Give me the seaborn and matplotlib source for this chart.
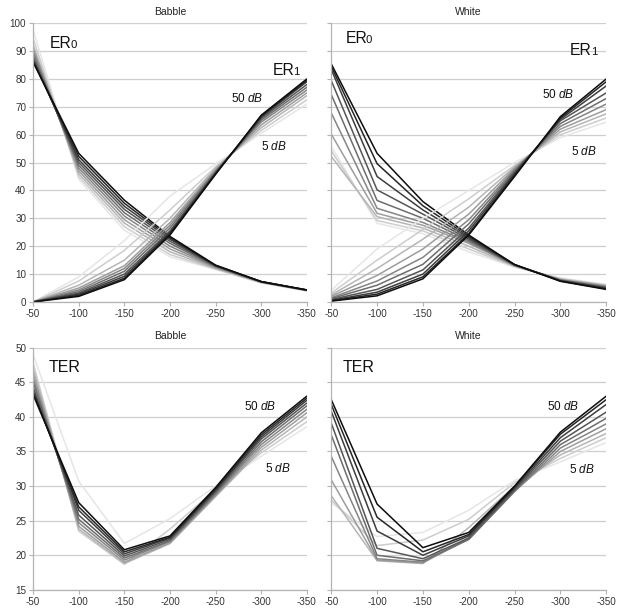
import numpy as np
import pandas as pd
import seaborn as sns
import matplotlib.pyplot as plt

# thresholds on the x axis and SNR levels of the curves
thresholds = [-50, -100, -150, -200, -250, -300, -350]
snr_levels = [5, 10, 15, 20, 25, 30, 35, 40, 45, 50]

# one row per SNR level (5 dB ... 50 dB)
babble_er0 = [
    [97.5, 44.0, 25.7, 16.2, 11.6, 6.8, 4.0],
    [94.5, 45.0, 27.0, 17.0, 11.8, 6.9, 4.0],
    [92.2, 46.0, 28.3, 18.0, 12.0, 7.0, 4.1],
    [91.0, 47.0, 29.5, 19.0, 12.3, 7.1, 4.1],
    [89.8, 48.0, 30.8, 20.0, 12.5, 7.1, 4.2],
    [88.6, 49.0, 32.0, 21.0, 12.7, 7.2, 4.2],
    [87.5, 50.0, 33.2, 21.8, 12.9, 7.2, 4.2],
    [86.8, 51.0, 34.3, 22.5, 13.0, 7.3, 4.3],
    [86.3, 52.2, 35.4, 23.0, 13.1, 7.3, 4.3],
    [86.0, 53.3, 36.5, 23.5, 13.2, 7.3, 4.3],
]
babble_er1 = [
    [0.0, 9.0, 22.0, 38.0, 49.5, 60.5, 71.0],
    [0.0, 7.5, 18.5, 33.0, 48.5, 61.5, 72.5],
    [0.0, 6.0, 15.0, 30.0, 48.0, 62.5, 74.0],
    [0.0, 5.0, 13.0, 28.5, 47.5, 63.5, 75.0],
    [0.0, 4.3, 12.0, 27.5, 47.0, 64.5, 76.0],
    [0.0, 3.7, 11.0, 26.5, 46.7, 65.2, 77.0],
    [0.0, 3.2, 10.0, 25.5, 46.4, 65.8, 78.0],
    [0.0, 2.8, 9.2, 25.0, 46.2, 66.3, 79.0],
    [0.0, 2.4, 8.5, 24.5, 46.0, 66.7, 79.5],
    [0.0, 2.0, 8.0, 24.0, 45.8, 67.0, 80.0],
]
white_er0 = [
    [55.8, 28.2, 24.5, 18.0, 12.5, 8.6, 6.3],
    [54.2, 29.2, 25.5, 19.0, 12.7, 8.4, 6.1],
    [52.2, 30.6, 26.5, 20.0, 12.8, 8.2, 5.9],
    [60.2, 31.8, 27.5, 21.0, 13.0, 8.0, 5.7],
    [67.8, 33.6, 28.5, 21.5, 13.1, 7.9, 5.5],
    [74.4, 36.4, 30.0, 22.0, 13.2, 7.8, 5.3],
    [79.4, 40.2, 31.5, 22.5, 13.3, 7.7, 5.1],
    [83.4, 45.0, 33.0, 23.0, 13.4, 7.6, 4.9],
    [84.5, 49.6, 34.5, 23.5, 13.4, 7.5, 4.7],
    [85.4, 53.3, 36.0, 24.0, 13.4, 7.4, 4.5],
]
white_er1 = [
    [4.2, 19.0, 30.0, 40.0, 50.0, 59.0, 64.5],
    [3.2, 15.0, 26.0, 37.0, 49.0, 60.0, 66.0],
    [2.5, 12.0, 22.5, 34.0, 48.5, 61.0, 67.5],
    [2.0, 9.5, 19.0, 31.5, 48.0, 62.0, 69.0],
    [1.5, 7.5, 16.0, 29.5, 47.5, 63.0, 71.0],
    [1.2, 6.0, 13.5, 28.0, 47.0, 64.0, 73.0],
    [0.9, 4.5, 11.5, 26.5, 46.5, 65.0, 75.0],
    [0.6, 3.5, 10.0, 25.5, 46.0, 65.5, 77.5],
    [0.4, 2.8, 9.0, 24.5, 45.5, 66.0, 79.0],
    [0.3, 2.2, 8.3, 24.0, 45.0, 66.5, 80.0],
]
babble_ter = [
    [49.0, 30.7, 21.7, 25.3, 30.0, 34.3, 38.6],
    [47.8, 23.5, 18.7, 23.8, 29.5, 34.8, 39.3],
    [47.0, 23.8, 18.8, 21.7, 28.5, 35.2, 40.0],
    [46.3, 24.2, 19.0, 21.8, 28.6, 35.6, 40.6],
    [45.6, 24.7, 19.3, 22.0, 28.8, 36.0, 41.1],
    [45.0, 25.2, 19.6, 22.1, 29.0, 36.4, 41.6],
    [44.3, 25.8, 19.9, 22.3, 29.2, 36.8, 42.0],
    [43.8, 26.5, 20.2, 22.5, 29.4, 37.1, 42.4],
    [43.5, 27.0, 20.5, 22.6, 29.6, 37.4, 42.7],
    [43.2, 27.6, 20.8, 22.8, 29.8, 37.7, 43.0],
]
white_ter = [
    [27.6, 22.7, 23.3, 26.5, 30.8, 33.5, 36.3],
    [28.0, 21.4, 22.2, 25.2, 30.5, 34.0, 37.0],
    [28.6, 19.2, 18.8, 24.0, 30.0, 34.5, 37.6],
    [30.9, 19.3, 18.9, 22.5, 29.3, 35.0, 38.3],
    [34.3, 19.5, 19.0, 22.3, 29.2, 35.5, 39.0],
    [37.4, 20.0, 19.2, 22.3, 29.3, 36.0, 39.8],
    [39.1, 21.0, 19.5, 22.5, 29.5, 36.5, 40.7],
    [40.8, 23.5, 20.0, 22.8, 29.7, 37.0, 41.8],
    [41.8, 25.5, 20.5, 23.0, 29.9, 37.5, 42.5],
    [42.5, 27.4, 21.1, 23.3, 30.0, 37.8, 43.0],
]


def to_frame(rows):
    recs = []
    for snr, vals in zip(snr_levels, rows):
        for t, v in zip(thresholds, vals):
            recs.append({"threshold": t, "snr": snr, "value": v})
    return pd.DataFrame(recs)


sns.set_style("white")
plt.rcParams['font.family'] = ['Liberation Sans', 'DejaVu Sans']
plt.rcParams['mathtext.fontset'] = 'custom'
plt.rcParams['mathtext.rm'] = 'Liberation Sans'
plt.rcParams['mathtext.it'] = 'Liberation Sans:italic'
plt.rcParams['axes.unicode_minus'] = False

greys = [str(g) for g in np.linspace(0.9, 0.05, len(snr_levels))]
palette = dict(zip(snr_levels, greys))

fig = plt.figure(figsize=(6.25, 6.1), dpi=100)
ax_b1 = fig.add_axes([0.053, 0.505, 0.438, 0.457])
ax_w1 = fig.add_axes([0.530, 0.505, 0.440, 0.457])
ax_b2 = fig.add_axes([0.053, 0.033, 0.438, 0.397])
ax_w2 = fig.add_axes([0.530, 0.033, 0.440, 0.397])


def draw(ax, frames, ylim, yticks, title, show_y):
    for df in frames:
        sns.lineplot(data=df, x="threshold", y="value", hue="snr",
                     palette=palette, linewidth=1.1, legend=False, ax=ax)
    ax.set_xlim(-50, -350)
    ax.set_ylim(*ylim)
    ax.set_xticks(thresholds)
    ax.set_yticks(yticks)
    ax.set_xlabel("")
    ax.set_ylabel("")
    ax.yaxis.grid(True, color="#cfcfcf", linewidth=0.9)
    ax.set_axisbelow(True)
    for s in ["top", "right"]:
        ax.spines[s].set_visible(False)
    for s in ["left", "bottom"]:
        ax.spines[s].set_color("#b3b3b3")
        ax.spines[s].set_linewidth(0.9)
    ax.tick_params(axis="both", labelsize=7.1, colors="#b3b3b3",
                   labelcolor="#333333", length=3, width=0.8, pad=2,
                   bottom=True, left=True)
    if not show_y:
        ax.tick_params(axis="y", labelleft=False)
    ax.set_title(title, fontsize=7.5, color="#222222", pad=6)


def er_label(ax, x, y, sub):
    ax.text(x, y, "ER", transform=ax.transAxes, fontsize=11.3, color="#111111")
    ax.annotate(sub, xy=(x, y), xycoords="axes fraction", xytext=(14.7, 0),
                textcoords="offset points", fontsize=8.2, color="#111111")


def db_labels(ax, p50, p5):
    ax.text(p50[0], p50[1], r"50 $\mathit{dB}$", transform=ax.transAxes,
            fontsize=8.5, color="#111111")
    ax.text(p5[0], p5[1], r"5 $\mathit{dB}$", transform=ax.transAxes,
            fontsize=8.5, color="#111111")


draw(ax_b1, [to_frame(babble_er0), to_frame(babble_er1)], (0, 100),
     range(0, 101, 10), "Babble", True)
draw(ax_w1, [to_frame(white_er0), to_frame(white_er1)], (0, 100),
     range(0, 101, 10), "White", False)
draw(ax_b2, [to_frame(babble_ter)], (15, 50), range(15, 51, 5), "Babble", True)
draw(ax_w2, [to_frame(white_ter)], (15, 50), range(15, 51, 5), "White", False)

er_label(ax_b1, 0.062, 0.91, "0")
er_label(ax_b1, 0.875, 0.814, "1")
db_labels(ax_b1, (0.722, 0.717), (0.832, 0.545))

er_label(ax_w1, 0.051, 0.928, "0")
er_label(ax_w1, 0.869, 0.885, "1")
db_labels(ax_w1, (0.765, 0.731), (0.872, 0.527))

ax_b2.text(0.058, 0.90, "TER", transform=ax_b2.transAxes, fontsize=11.5, color="#111111")
db_labels(ax_b2, (0.77, 0.744), (0.846, 0.488))
ax_w2.text(0.04, 0.90, "TER", transform=ax_w2.transAxes, fontsize=11.5, color="#111111")
db_labels(ax_w2, (0.785, 0.744), (0.865, 0.483))

fig.savefig("out.png", dpi=100)
